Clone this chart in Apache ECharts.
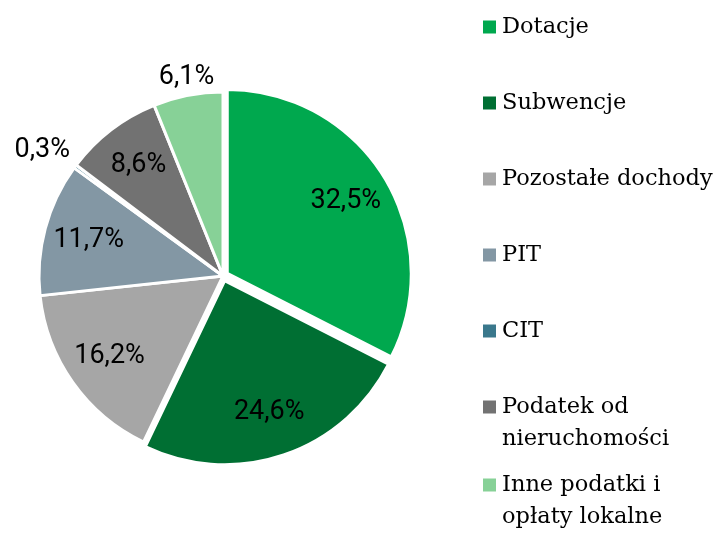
<!DOCTYPE html>
<html>
<head>
<meta charset="utf-8">
<script src="https://cdn.jsdelivr.net/npm/echarts@6/dist/echarts.min.js"></script>
<style>
    html, body { margin: 0; padding: 0; background: #fff; }
    #chart { width: 716px; height: 537px; }
</style>
</head>
<body>
<div id="chart"></div>
<script>
(function () {

    var names = ['Dotacje', 'Subwencje', 'Pozostałe dochody', 'PIT', 'CIT', 'Podatek od nieruchomości', 'Inne podatki i opłaty lokalne'];
    var values = [32.5, 24.6, 16.2, 11.7, 0.3, 8.6, 6.1];
    var colors = ['#00a84e', '#006f33', '#a6a6a6', '#8397a4', '#3a788c', '#727272', '#87d197'];
    // legend text broken the same way as in the picture
    var legendLines = [['Dotacje'], ['Subwencje'], ['Pozostałe dochody'], ['PIT'], ['CIT'], ['Podatek od', 'nieruchomości'], ['Inne podatki i', 'opłaty lokalne']];
    var exploded = ['Dotacje', 'Subwencje'];
    var outerLabelsA = ['CIT'];
    var outerLabelsB = ['Inne podatki i opłaty lokalne'];

    var center = [223, 276];
    var R = 184;
    var labelFont = { fontFamily: 'Roboto', fontSize: 27, color: '#000' };

    function fmt(p) {
        return p.value.toFixed(1).replace('.', ',') + '%';
    }

    function pieData(showFn, withColor) {
        return names.map(function (n, i) {
            var d = { name: n, value: values[i], selected: exploded.indexOf(n) >= 0 };
            if (withColor) {
                d.itemStyle = { color: colors[i] };
            } else {
                d.label = { show: showFn(n) };
            }
            return d;
        });
    }

    function labelSeries(radius, showFn, shift) {
        return {
            type: 'pie',
            center: center,
            radius: radius,
            startAngle: 90,
            clockwise: true,
            silent: true,
            animation: false,
            selectedMode: 'multiple',
            selectedOffset: 5,
            itemStyle: { color: 'rgba(0,0,0,0)', borderWidth: 0 },
            label: Object.assign({ position: 'inside', formatter: fmt }, labelFont),
            labelLine: { show: false },
            labelLayout: shift || {},
            emphasis: { disabled: true },
            data: pieData(showFn, false)
        };
    }

    var legends = [];
    var tops = [11, 87, 163, 239, 315, 359, 437];
    for (var i = 0; i < names.length; i++) {
        legends.push({
            orient: 'vertical',
            left: 481,
            top: tops[i],
            padding: 0,
            icon: 'rect',
            itemWidth: 15,
            itemHeight: 15,
            selectedMode: false,
            data: [names[i]],
            formatter: (function (lines) {
                return function () {
                    return lines.length > 1 ? '\n' + lines.join('\n') : lines[0];
                };
            })(legendLines[i]),
            textStyle: { fontFamily: 'DejaVu Serif', fontSize: 22.5, lineHeight: 32, color: '#000' }
        });
    }

    var option = {
        animation: false,
        legend: legends,
        series: [{
            name: 'Dochody',
            type: 'pie',
            center: center,
            radius: [0, R],
            startAngle: 90,
            clockwise: true,
            selectedMode: 'multiple',
            selectedOffset: 5,
            itemStyle: { borderColor: '#fff', borderWidth: 3 },
            label: { show: false },
            labelLine: { show: false },
            emphasis: { disabled: true },
            data: pieData(null, true)
        },
            labelSeries([88, R], function (n) {
                return outerLabelsA.indexOf(n) < 0 && outerLabelsB.indexOf(n) < 0;
            }),
            labelSeries([200, 244], function (n) { return outerLabelsA.indexOf(n) >= 0; }, { dy: 8 }),
            labelSeries([190, 218], function (n) { return outerLabelsB.indexOf(n) >= 0; }, { dx: 3, dy: 4 })
        ]
    };

    var myChart = echarts.init(document.getElementById('chart'));
    myChart.setOption(option);

})();
</script>
</body>
</html>
